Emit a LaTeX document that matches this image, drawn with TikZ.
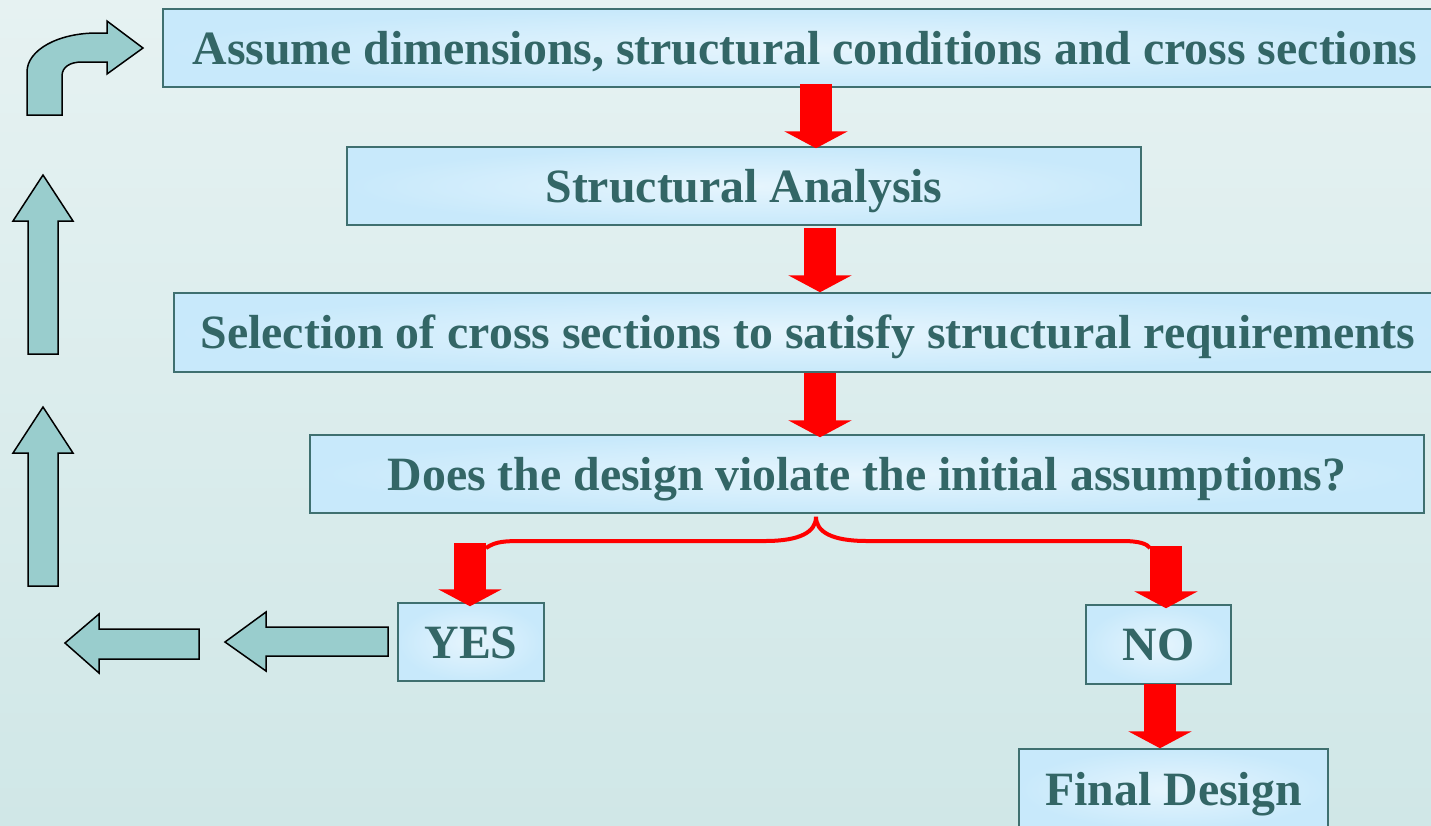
\documentclass[tikz,border=0pt]{standalone}
\usepackage{fontspec}
\setmainfont{Liberation Serif}
\usetikzlibrary{arrows.meta,calc}
\definecolor{bgtop}{HTML}{E6F2F2}
\definecolor{bgbot}{HTML}{D0E7E7}
\definecolor{boxblue}{HTML}{C8E9FB}
\definecolor{boxline}{HTML}{3F7070}
\definecolor{txt}{HTML}{336666}
\definecolor{teal}{HTML}{99CDCD}
\definecolor{arrred}{HTML}{FF0000}
\tikzset{
  box/.style={rectangle, draw=boxline, line width=1.5pt, inner color=boxblue!45!white, outer color=boxblue,
    text=txt, font=\fontsize{47.8}{52}\selectfont\bfseries, text height=32.3pt, text depth=0pt, inner sep=0pt},
  redarrow/.style={draw=arrred, line width=32pt, -{Triangle[width=63pt,length=17pt]}},
  brace/.style={draw=arrred, line width=4pt},
  tealarrow/.style={fill=teal, draw=black, line width=1.5pt, line join=miter},
}
\begin{document}
\begin{tikzpicture}[x=1pt,y=-1pt]
\useasboundingbox (0,0) rectangle (1431,825);
\clip (0,0) rectangle (1431,825);
\shade[top color=bgtop, bottom color=bgbot] (0,0) rectangle (1431,825);

\node[box, minimum width=1284pt, minimum height=78pt] (a) at (805,48) {Assume dimensions, structural conditions and cross sections};
\node[box, minimum width=794pt, minimum height=78pt] (b) at (744,186) {Structural Analysis};
\node[box, minimum width=1268pt, minimum height=79pt] (c) at (808,332.5) {Selection of cross sections to satisfy structural requirements};
\node[box, minimum width=1114pt, minimum height=78pt] (d) at (867,474) {Does the design violate the initial assumptions?};
\node[box, minimum width=146pt, minimum height=78pt] (yes) at (471,642) {YES};
\node[box, minimum width=145pt, minimum height=79pt] (no) at (1158.5,644.5) {NO};
\node[box, minimum width=309pt, minimum height=80pt] (fin) at (1173.5,789) {Final Design};

% column coordinates for the red arrows
\coordinate (x1) at (816,0);
\coordinate (x2) at (820,0);
\coordinate (xy) at (470,0);
\coordinate (xn) at (1166,0);
\coordinate (xf) at (1160,0);

\draw[redarrow] ($(x1 |- a.south)+(0,-4)$) -- ($(x1 |- b.north)+(0,2)$);
\draw[redarrow] ($(x2 |- b.south)+(0,2)$) -- ($(x2 |- c.north)+(0,0)$);
\draw[redarrow] ($(x2 |- c.south)+(0,0)$) -- ($(x2 |- d.north)+(0,3)$);
\draw[redarrow] ($(xy |- d.south)+(0,29)$) -- ($(xy |- yes.north)+(0,4)$);
\draw[redarrow] ($(xn |- d.south)+(0,32)$) -- ($(xn |- no.north)+(0,4)$);
\draw[redarrow] ($(xf |- no.south)+(0,-1)$) -- ($(xf |- fin.north)+(0,0)$);

% brace
\coordinate (cusp) at (x1 |- d.south);
\coordinate (bl) at (486,548);
\coordinate (br) at (1150,548);
\draw[brace] (bl) .. controls (496,541) and (506,541) .. (525,541) -- (765,541)
  .. controls (800,541) and (816,532) .. ($(cusp)+(0,3)$)
  .. controls (816,532) and (832,541) .. (867,541) -- (1122,541)
  .. controls (1140,541) and (1147,544) .. (br);

% teal block arrows
\draw[tealarrow] (388,627) -- (266,627) -- (266,612) -- (225,642) -- (266,671) -- (266,656) -- (388,656) -- cycle;
\draw[tealarrow] (199,629) -- (99,629) -- (99,614) -- (65,643) -- (99,673) -- (99,659) -- (199,659) -- cycle;
\draw[tealarrow] (28,586) -- (28,453) -- (13,453) -- (43,407) -- (73,453) -- (58,453) -- (58,586) -- cycle;
\draw[tealarrow] (28,354) -- (28,221) -- (13,221) -- (43,175) -- (73,221) -- (58,221) -- (58,354) -- cycle;
\draw[tealarrow] (27,115) -- (27,72) .. controls (27,50) and (58,33) .. (97,33) -- (107,33) -- (107,21) -- (143,48)
  -- (107,74) -- (107,62) -- (82,62) .. controls (70,62) and (62,67) .. (62,76) -- (62,115) -- cycle;
\end{tikzpicture}
\end{document}
